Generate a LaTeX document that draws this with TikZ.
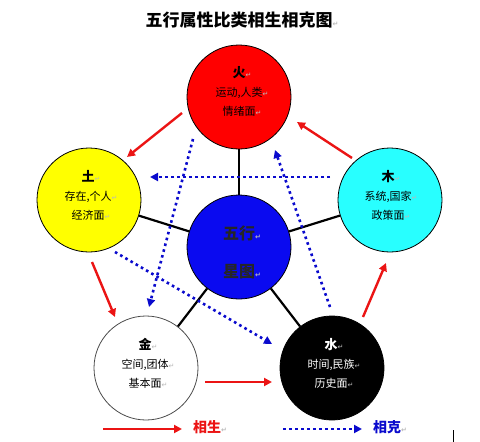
\documentclass[tikz,border=0pt]{standalone}
\usepackage{fontspec}
\newfontfamily\cjk{Noto Sans CJK SC}
\newfontfamily\djv{DejaVu Sans}
\usetikzlibrary{arrows.meta}
\definecolor{fireC}{RGB}{255,0,0}
\definecolor{earthC}{RGB}{255,255,0}
\definecolor{woodC}{RGB}{40,255,255}
\definecolor{coreC}{RGB}{10,10,240}
\definecolor{shengC}{RGB}{235,20,20}
\definecolor{keC}{RGB}{10,10,205}
\newcommand{\pmk}{{\djv\fontsize{7}{7}\selectfont\textcolor{gray!55}{↵}}}
\begin{document}
\begin{tikzpicture}[x=1pt,y=-1pt,
  elem/.style={circle, draw=black, line width=0.8pt, minimum size=104pt, inner sep=0pt},
  link/.style={line width=2.2pt, black},
  sheng/.style={draw=shengC, line width=2.4pt, -{Triangle[length=8pt,width=8pt]}},
  ke/.style={draw=keC, line width=2.6pt, dash pattern=on 2.6pt off 3.4pt, -{Triangle[length=8pt,width=8pt]}},
  ctext/.style={font=\cjk\fontsize{11}{19}\selectfont, align=center, inner sep=0pt},
  head/.style={font=\cjk\bfseries\fontsize{13}{19}\selectfont}
]
\useasboundingbox (0,0) rectangle (480,442);

% title
\node[font=\cjk\bfseries\fontsize{17}{20}\selectfont, inner sep=0pt] (title) at (242,20) {五行属性比类相生相克图\pmk};

% circles
\node[elem, fill=fireC] (fire) at (239,97) {};
\node[elem, fill=earthC] (earth) at (89,200) {};
\node[elem, fill=woodC] (wood) at (390,200) {};
\node[elem, fill=coreC] (core) at (239,247) {};
\node[elem, fill=white, draw=black!70] (metal) at (146,368) {};
\node[elem, fill=black] (water) at (332,368) {};

% spokes
\draw[link] (core) -- (fire);
\draw[link] (core) -- (earth);
\draw[link] (core) -- (wood);
\draw[link] (core) -- (metal);
\draw[link] (core) -- (water);

% texts
\node[ctext] (fireT) at (242,91) {{\fontsize{13}{19}\selectfont\bfseries 火}\pmk\\运动,人类\pmk\\情绪面\pmk};
\node[ctext] (earthT) at (91,195.5) {{\fontsize{13}{19}\selectfont\bfseries 土}\pmk\\存在,个人\pmk\\经济面\pmk};
\node[ctext] (woodT) at (391,195.5) {{\fontsize{13}{19}\selectfont\bfseries 木}\pmk\\系统,国家\pmk\\政策面\pmk};
\node[ctext] (metalT) at (148,363) {{\fontsize{13}{19}\selectfont\bfseries 金}\pmk\\空间,团体\pmk\\基本面\pmk};
\node[ctext, text=white] (waterT) at (334,363) {{\fontsize{13}{19}\selectfont\bfseries 水}\pmk\\时间,民族\pmk\\历史面\pmk};
\node[ctext, font=\cjk\bfseries\fontsize{16}{38}\selectfont, text=black!85] (coreT) at (242,252) {五行\pmk\\星图\pmk};

% generation arrows (相生)
\coordinate (r1a) at (182,113); \coordinate (r1b) at (127,157);
\coordinate (r2a) at (352,158); \coordinate (r2b) at (297,122);
\coordinate (r3a) at (92,262);  \coordinate (r3b) at (115,317);
\coordinate (r4a) at (205,382); \coordinate (r4b) at (272,382);
\coordinate (r5a) at (363,317); \coordinate (r5b) at (386,263);
\draw[sheng] (r1a) -- (r1b);
\draw[sheng] (r2a) -- (r2b);
\draw[sheng] (r3a) -- (r3b);
\draw[sheng] (r4a) -- (r4b);
\draw[sheng] (r5a) -- (r5b);

% overcoming arrows (相克)
\coordinate (b1a) at (330,177); \coordinate (b1b) at (150,177);
\coordinate (b2a) at (115,252); \coordinate (b2b) at (272,344);
\coordinate (b3a) at (330,307); \coordinate (b3b) at (275,150);
\coordinate (b4a) at (193,139); \coordinate (b4b) at (149,307);
\draw[ke] (b1a) -- (b1b);
\draw[ke] (b2a) -- (b2b);
\draw[ke] (b3a) -- (b3b);
\draw[ke] (b4a) -- (b4b);

% legend
\coordinate (l1a) at (103,429); \coordinate (l1b) at (182,429);
\coordinate (l2a) at (283,429); \coordinate (l2b) at (362,429);
\draw[sheng] (l1a) -- (l1b);
\draw[ke] (l2a) -- (l2b);
\node[font=\cjk\bfseries\fontsize{14}{16}\selectfont, text=shengC, inner sep=0pt, anchor=west] (lg1) at (193,427) {相生\pmk};
\node[font=\cjk\bfseries\fontsize{14}{16}\selectfont, text=keC, inner sep=0pt, anchor=west] (lg2) at (373,427) {相克\pmk};

% cursor mark
\coordinate (cur1) at (453,430); \coordinate (cur2) at (453,442);
\draw[black, line width=0.9pt] (cur1) -- (cur2);
\end{tikzpicture}
\end{document}
